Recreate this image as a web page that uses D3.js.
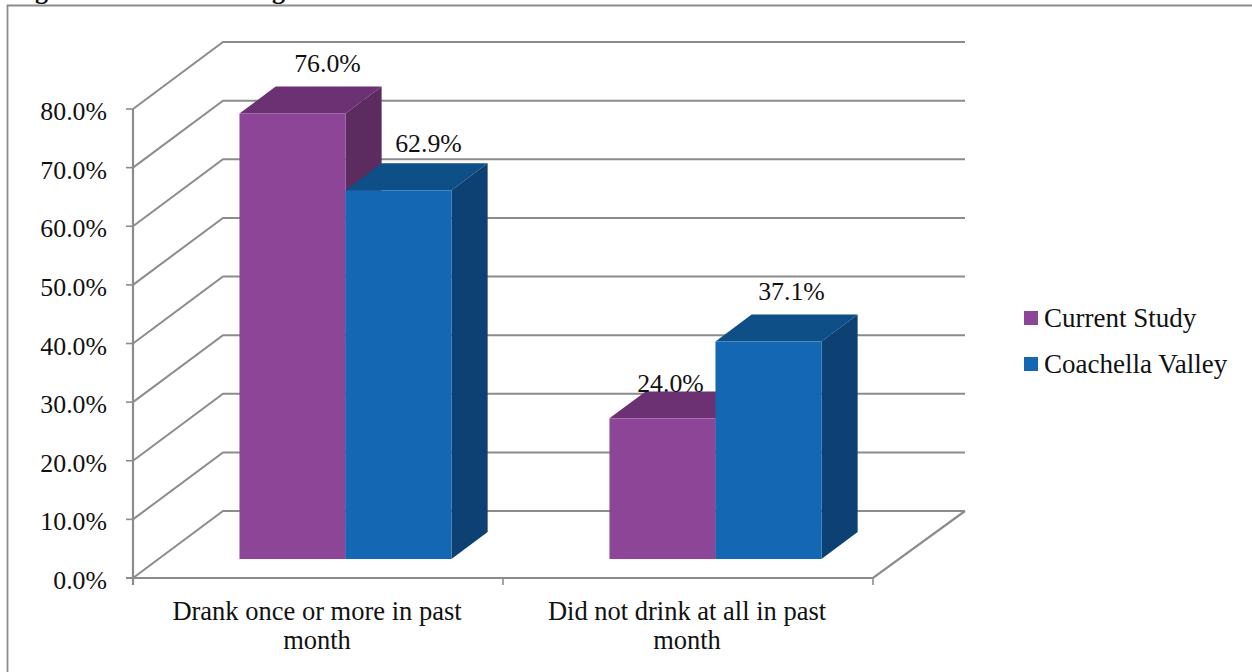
<!DOCTYPE html>
<html><head><meta charset="utf-8">
<script src="https://cdn.jsdelivr.net/npm/d3@7/dist/d3.min.js"></script>
<style>
html,body{margin:0;padding:0;background:#fff}
svg{display:block}
text{font-family:"Liberation Serif",serif;fill:#111}
</style></head><body>
<svg id="chart" width="1252" height="672"></svg>
<script>
const categories = [["Drank once or more in past","month"],["Did not drink at all in past","month"]];
const seriesNames = ["Current Study","Coachella Valley"];
const currentStudy = [76.0,24.0];
const coachellaValley = [62.9,37.1];
const yTicks = [0,10,20,30,40,50,60,70,80];
const frontColors = ["#8C4597","#1467B3"];
const topColors = ["#6C3172","#0E4F88"];
const sideColors = ["#5C2B60","#0D4174"];

const svg = d3.select("#chart");
const y = d3.scaleLinear().domain([0,80]).range([578,109]);
const x = d3.scaleBand().domain([0,1]).range([133,873]);
const wall = {dx:90,dy:-67};
const depthFront = 0.283, depthBack = 0.685;   // bar depth as fractions of the floor
const gap = 0.573;                             // share of a category the two bars fill
const grey = "#8c8c8c";

// hand-placed data label nudges, series by category
const labelNudge = [[[35,-15],[8,1]],[[30,-11],[23,-15]]];

// outer frame
svg.append("path").attr("d","M7.5,672V5.5H1252").attr("fill","none").attr("stroke",grey).attr("stroke-width",1.8);

// descenders of the heading that runs off the top edge
[35,272].forEach(px=>svg.append("text").attr("x",px).attr("y",-1).attr("font-size",26).attr("font-weight","bold").text("g"));

// back wall gridlines and their diagonals on the side wall
const g = svg.append("g").attr("fill","none").attr("stroke",grey);
yTicks.forEach(t=>{
  const yy=y(t);
  g.append("path").attr("stroke-width",2).attr("d",`M${x.range()[0]},${yy}L${x.range()[0]+wall.dx},${yy+wall.dy}L${x.range()[1]+wall.dx+2},${yy+wall.dy}`);
  g.append("path").attr("stroke-width",1.6).attr("d",`M${x.range()[0]-7},${yy}H${x.range()[0]}`);
});
g.append("path").attr("stroke-width",2.2).attr("d",`M133,${y(80)}V${y(0)+7}`);
g.append("path").attr("stroke-width",2.2).attr("d",`M126,${y(0)}H${x.range()[1]}L${x.range()[1]+wall.dx+2},${y(0)+wall.dy}`);
[0,1,2].forEach(i=>{
  const px=i<2?x(i):x.range()[1];
  g.append("path").attr("stroke-width",1.6).attr("d",`M${px},${y(0)}v7`);
});

// axis labels
svg.append("g").selectAll("text").data(yTicks).join("text")
  .attr("x",107).attr("y",d=>y(d)+11).attr("text-anchor","end").attr("font-size",25.8)
  .text(d=>d.toFixed(1)+"%");

// 3-D bars: front face, top and right side
const series=[currentStudy,coachellaValley];
const bw=x.bandwidth()*gap/2;
const ox=wall.dx*depthFront, oy=wall.dy*depthFront;
const ddx=wall.dx*(depthBack-depthFront), ddy=wall.dy*(depthBack-depthFront);
const bars=svg.append("g");
const labels=[];
[0,1].forEach(c=>{
  const cx=x(c)+x.bandwidth()/2+ox+2;
  [0,1].forEach(s=>{
    const v=series[s][c];
    const x0=cx+(s-1)*bw, x1=x0+bw, yb=y(0)+oy, yt=y(v)+oy;
    bars.append("path").attr("fill",sideColors[s]).attr("d",`M${x1},${yb}L${x1+ddx},${yb+ddy}L${x1+ddx},${yt+ddy}L${x1},${yt}Z`);
    bars.append("path").attr("fill",topColors[s]).attr("d",`M${x0},${yt}L${x0+ddx},${yt+ddy}L${x1+ddx},${yt+ddy}L${x1},${yt}Z`);
    bars.append("rect").attr("fill",frontColors[s]).attr("x",x0).attr("y",yt).attr("width",bw).attr("height",yb-yt);
    labels.push({v,px:x0+bw/2+labelNudge[s][c][0],py:yt+ddy+labelNudge[s][c][1]});
  });
});
svg.append("g").selectAll("text").data(labels).join("text")
  .attr("x",d=>d.px).attr("y",d=>d.py).attr("text-anchor","middle").attr("font-size",25.8)
  .text(d=>d.v.toFixed(1)+"%");

// category labels
categories.forEach((lines,i)=>{
  lines.forEach((l,j)=>svg.append("text").attr("x",x(i)+x.bandwidth()/2-1).attr("y",620+j*29).attr("text-anchor","middle").attr("font-size",26.5).text(l));
});

// legend
seriesNames.forEach((n,i)=>{
  const ly=311+i*46;
  svg.append("rect").attr("x",1024).attr("y",ly).attr("width",14).attr("height",14).attr("fill",frontColors[i]);
  svg.append("text").attr("x",1044).attr("y",ly+16).attr("font-size",27).text(n);
});
</script></body></html>
